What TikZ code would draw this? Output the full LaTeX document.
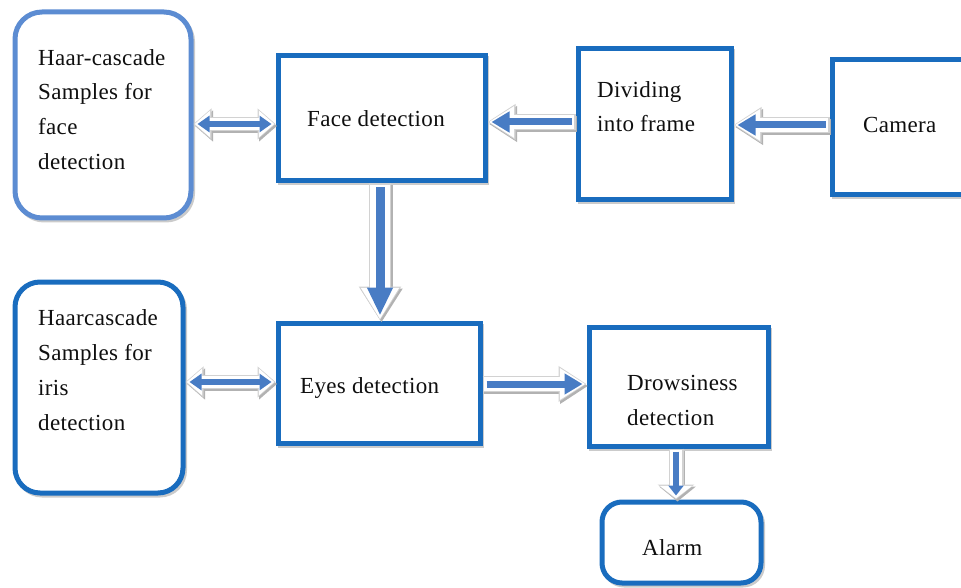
\documentclass[tikz,border=0pt]{standalone}
\usepackage{fontspec}
\setmainfont[LetterSpace=1.5]{Liberation Serif}
\usetikzlibrary{arrows.meta,shadows}
\definecolor{boxblue}{RGB}{25,108,190}
\definecolor{softblue}{RGB}{92,140,210}
\definecolor{arrowblue}{RGB}{72,124,196}
\definecolor{txtc}{RGB}{15,15,15}
\tikzset{
  sqbox/.style={draw=boxblue, line width=5pt, fill=white, inner sep=0pt,
    general shadow={draw=black!45, line width=4pt, shadow xshift=2pt, shadow yshift=-2.5pt, opacity=.45}},
  rbox/.style={sqbox, rounded corners=#1},
  lbl/.style={anchor=base west, inner sep=0pt, text=txtc, font=\fontsize{23}{28}\selectfont},
  % class A: single horizontal arrows
  edgeA/.style={draw=gray!35, line width=16pt, >={Triangle[length=28pt,width=34pt]}},
  whiteA/.style={draw=white, line width=13.6pt, >={Triangle[length=25.5pt,width=30pt]}, shorten >=1.2pt, shorten <=1.2pt},
  coreA/.style={draw=arrowblue, line width=7pt, >={Triangle[length=18pt,width=20pt]}, shorten >=4pt, shorten <=4pt},
  % class B: big vertical arrow
  edgeB/.style={draw=gray!35, line width=22pt, >={Triangle[length=34pt,width=40pt]}},
  whiteB/.style={draw=white, line width=19.6pt, >={Triangle[length=31.5pt,width=36pt]}, shorten >=1.2pt, shorten <=1.2pt},
  coreB/.style={draw=arrowblue, line width=9pt, >={Triangle[length=28pt,width=24pt]}, shorten >=5pt, shorten <=4pt},
  % class C: short vertical arrow
  edgeC/.style={draw=gray!35, line width=15pt, >={Triangle[length=15pt,width=36pt]}},
  whiteC/.style={draw=white, line width=12.6pt, >={Triangle[length=12.5pt,width=32pt]}, shorten >=1.2pt, shorten <=1.2pt},
  coreC/.style={draw=arrowblue, line width=6pt, >={Triangle[length=10pt,width=15pt]}, shorten >=4pt, shorten <=3pt},
  % class D: double arrows
  edgeD/.style={draw=gray!35, line width=14pt, >={Triangle[length=18pt,width=30pt]}},
  whiteD/.style={draw=white, line width=11.6pt, >={Triangle[length=15.5pt,width=26pt]}, shorten >=1.2pt, shorten <=1.2pt},
  coreD/.style={draw=arrowblue, line width=6pt, >={Triangle[length=12pt,width=16pt]}, shorten >=4pt, shorten <=4pt},
}
\newcommand\blockarrow[4]{%
  \draw[edge#1, draw=gray!60, transform canvas={shift={(1.5pt,-2pt)}}, #2] #3 -- #4;
  \draw[edge#1, #2] #3 -- #4;
  \draw[white#1, #2] #3 -- #4;
  \draw[core#1, #2] #3 -- #4;
}
\begin{document}
\begin{tikzpicture}[x=1pt, y=-1pt]
\useasboundingbox (0,0) rectangle (961,588);
\clip (0,0) rectangle (961,588);

% boxes
\node[rbox=27pt, draw=softblue, minimum width=176pt, minimum height=206pt] (hf) at (103,115) {};
\node[sqbox, minimum width=207pt, minimum height=125pt] (face) at (381.5,118.5) {};
\node[sqbox, minimum width=153pt, minimum height=151pt] (div) at (654.5,124.5) {};
\node[sqbox, minimum width=168pt, minimum height=135pt] (cam) at (916,127.5) {};
\node[rbox=25pt, minimum width=168pt, minimum height=211pt] (hi) at (99,387.5) {};
\node[sqbox, minimum width=202pt, minimum height=120pt] (eyes) at (379,383) {};
\node[sqbox, minimum width=179pt, minimum height=119pt] (drow) at (678.5,386.5) {};
\node[rbox=20pt, minimum width=159pt, minimum height=81pt] (alarm) at (681.5,542.5) {};

% texts
\node[lbl] (hf1) at (38,66) {Haar-cascade};
\node[lbl] (hf2) at (38,100) {Samples for};
\node[lbl] (hf3) at (38,135) {face};
\node[lbl] (hf4) at (38,170) {detection};
\node[lbl] (hi1) at (38,325) {Haarcascade};
\node[lbl] (hi2) at (38,360) {Samples for};
\node[lbl] (hi3) at (38,395) {iris};
\node[lbl] (hi4) at (38,430) {detection};
\node[lbl] (facet) at (307,127) {Face detection};
\node[lbl] (div1) at (597,98) {Dividing};
\node[lbl] (div2) at (597,132) {into frame};
\node[lbl] (camt) at (863,133) {Camera};
\node[lbl] (eyest) at (300,393) {Eyes detection};
\node[lbl] (drow1) at (627,390) {Drowsiness};
\node[lbl] (drow2) at (627,425) {detection};
\node[lbl] (alarmt) at (642,555) {Alarm};

% helper rows / columns
\coordinate (r1) at (0,124);
\coordinate (r2) at (0,122);
\coordinate (r3) at (0,125);
\coordinate (r4) at (0,382);
\coordinate (r5) at (0,384);
\coordinate (c1) at (380,0);
\coordinate (c2) at (676,0);

% connectors
\blockarrow{D}{<->}{(hf.east|-r1)}{(face.west|-r1)}
\blockarrow{A}{->}{(div.west|-r2)}{(face.east|-r2)}
\blockarrow{A}{->}{(cam.west|-r3)}{(div.east|-r3)}
\blockarrow{B}{->}{(face.south-|c1)}{(eyes.north-|c1)}
\blockarrow{D}{<->}{(hi.east|-r4)}{(eyes.west|-r4)}
\blockarrow{A}{->}{(eyes.east|-r5)}{(drow.west|-r5)}
\blockarrow{C}{->}{(drow.south-|c2)}{(alarm.north-|c2)}
\end{tikzpicture}
\end{document}
